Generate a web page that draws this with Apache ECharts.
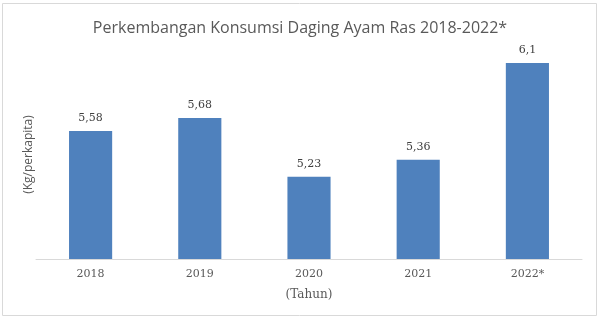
<!DOCTYPE html>
<html><head><meta charset="utf-8">
<script src="https://cdn.jsdelivr.net/npm/echarts@6/dist/echarts.min.js"></script>
<style>html,body{margin:0;padding:0;background:#fff}#c{width:600px;height:319px}</style>
</head><body><div id="c"></div>
<script>
var categories = ['2018', '2019', '2020', '2021', '2022*'];
var values = [5.58, 5.68, 5.23, 5.36, 6.1];
var valueLabels = ['5,58', '5,68', '5,23', '5,36', '6,1'];
var titleText = 'Perkembangan Konsumsi Daging Ayam Ras 2018-2022*';
var yName = '(Kg/perkapita)';
var xName = '(Tahun)';

var chart = echarts.init(document.getElementById('c'));
chart.setOption({
  animation: false,
  title: {
    text: titleText, left: 'center', top: 15,
    textStyle: {fontFamily: 'Open Sans', fontWeight: 'normal', fontSize: 16, color: '#595959'}
  },
  graphic: [{
    type: 'rect', shape: {x: 2.5, y: 3.5, width: 594, height: 312},
    style: {fill: 'none', stroke: '#d9d9d9', lineWidth: 1}, z: -1
  }],
  grid: {left: 36, right: 18, top: 50, bottom: 60},
  xAxis: {
    type: 'category', data: categories,
    name: xName, nameLocation: 'middle', nameGap: 30,
    nameTextStyle: {fontFamily: 'DejaVu Serif', fontSize: 12, color: '#595959'},
    axisLine: {lineStyle: {color: '#d9d9d9'}},
    axisTick: {show: false},
    axisLabel: {fontFamily: 'DejaVu Serif', fontSize: 11, color: '#595959', margin: 10}
  },
  yAxis: {
    type: 'value', min: 4.6, max: 6.2,
    name: yName, nameLocation: 'middle', nameGap: 1, nameRotate: 90,
    nameTextStyle: {fontFamily: 'Open Sans', fontSize: 12, color: '#595959'},
    axisLine: {show: false}, axisTick: {show: false}, axisLabel: {show: false},
    splitLine: {show: false}
  },
  series: [{
    type: 'bar', data: values, barWidth: '39.5%',
    itemStyle: {color: '#4f81bd'},
    label: {
      show: true, position: 'top', distance: 7,
      fontFamily: 'DejaVu Serif', fontSize: 11, color: '#404040',
      formatter: function(p){ return valueLabels[p.dataIndex]; }
    }
  }]
});
</script></body></html>
